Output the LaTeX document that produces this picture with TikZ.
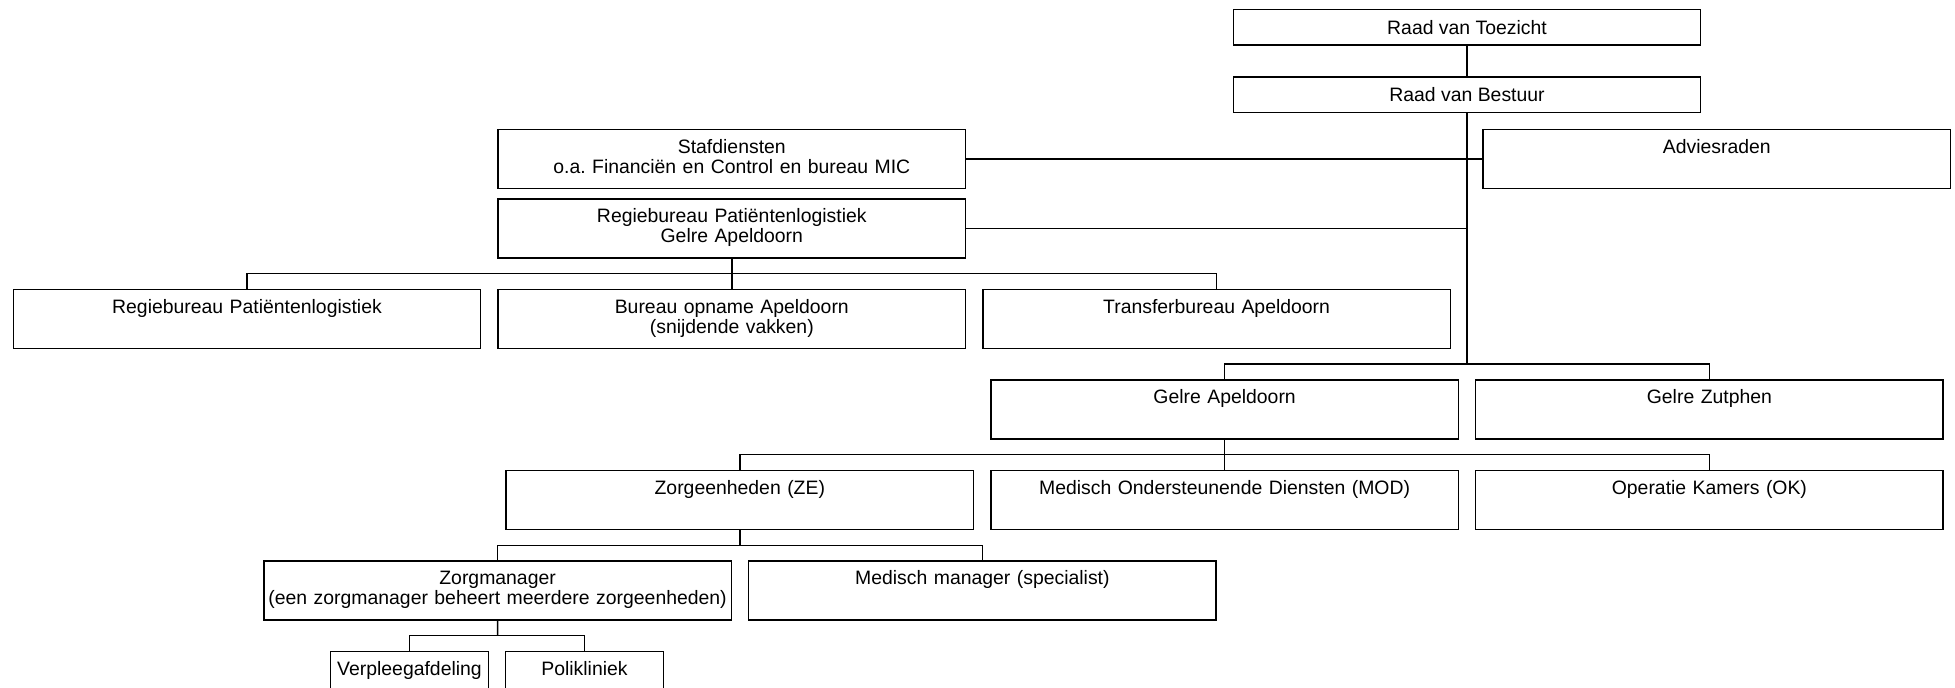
\documentclass[tikz,border=0pt]{standalone}
\usepackage{fontspec}
\setmainfont{Liberation Sans}
\usepackage{tikz}
\usetikzlibrary{calc,positioning}
\frenchspacing

\begin{document}
\begin{tikzpicture}[
    x=1pt, y=1pt,
    line width=0.7pt,
    node distance=15.75pt and 8.7pt,
    headbox/.style={draw, minimum width=233.7pt, minimum height=17.75pt,
      inner sep=0pt, outer sep=0pt, font=\fontsize{9.7}{10}\selectfont},
    orgbox/.style={draw, text width=233.7pt, align=center, inner sep=0pt, outer sep=0pt,
      text height=11.9pt, text depth=17.6pt, font=\fontsize{9.7}{10}\selectfont},
    smallbox/.style={orgbox, text width=78.8pt},
  ]
  \useasboundingbox (0,0) rectangle (977.5,-343.5);

  \node[headbox, anchor=north] (rvt) at (733.5,-4.75) {Raad van Toezicht};
  \node[headbox, below=16pt of rvt] (rvb) {Raad van Bestuur};

  \node[orgbox, anchor=north] (staf) at (365.9,-64.75) {Stafdiensten\\o.a. Financiën en Control en bureau MIC};
  \node[orgbox, anchor=north] (advies) at (858.4,-64.75) {Adviesraden};
  \node[orgbox, below=5.25pt of staf] (regie) {Regiebureau Patiëntenlogistiek\\Gelre Apeldoorn};

  \node[orgbox, below=of regie] (opname) {Bureau opname Apeldoorn\\(snijdende vakken)};
  \node[orgbox, left=of opname] (rp) {Regiebureau Patiëntenlogistiek};
  \node[orgbox, right=of opname] (transfer) {Transferbureau Apeldoorn};

  \node[orgbox, anchor=north] (apd) at (612.3,-190) {Gelre Apeldoorn};
  \node[orgbox, right=of apd] (ztp) {Gelre Zutphen};

  \node[orgbox, below=of apd] (mod) {Medisch Ondersteunende Diensten (MOD)};
  \node[orgbox, left=of mod] (ze) {Zorgeenheden (ZE)};
  \node[orgbox, right=of mod] (ok) {Operatie Kamers (OK)};

  \node[orgbox, anchor=north] (zm) at (248.8,-280.5) {Zorgmanager\\(een zorgmanager beheert meerdere zorgeenheden)};
  \node[orgbox, right=of zm] (mm) {Medisch manager (specialist)};

  \node[smallbox, below=of zm.south, xshift=-44.05pt] (verpl) {Verpleegafdeling};
  \node[smallbox, right=of verpl] (poli) {Polikliniek};

  \coordinate (topbus) at ($(rvb.south |- apd.north) + (0,8)$);
  \coordinate (bus3) at ($(regie.south)!.5!(opname.north)$);
  \coordinate (bus5) at ($(apd.south)!.5!(mod.north)$);
  \coordinate (bus6) at ($(ze.south)!.5!(ze.south |- zm.north)$);
  \coordinate (bus7) at ($(zm.south)!.5!(zm.south |- verpl.north)$);

  \draw (rvt) -- (rvb);
  \draw (rvb) -- (topbus);
  \draw (apd.north) |- (topbus) -| (ztp.north);
  \draw (staf) -- (advies);
  \draw (regie) -- (regie -| rvb);
  \draw (regie) -- (opname);
  \draw (rp.north) |- (bus3) -| (transfer.north);
  \draw (apd) -- (mod);
  \draw (ze.north) |- (bus5) -| (ok.north);
  \draw (ze.south) -- (bus6);
  \draw (zm.north) |- (bus6) -| (mm.north);
  \draw (zm.south) -- (bus7);
  \draw (verpl.north) |- (bus7) -| (poli.north);
\end{tikzpicture}
\end{document}
